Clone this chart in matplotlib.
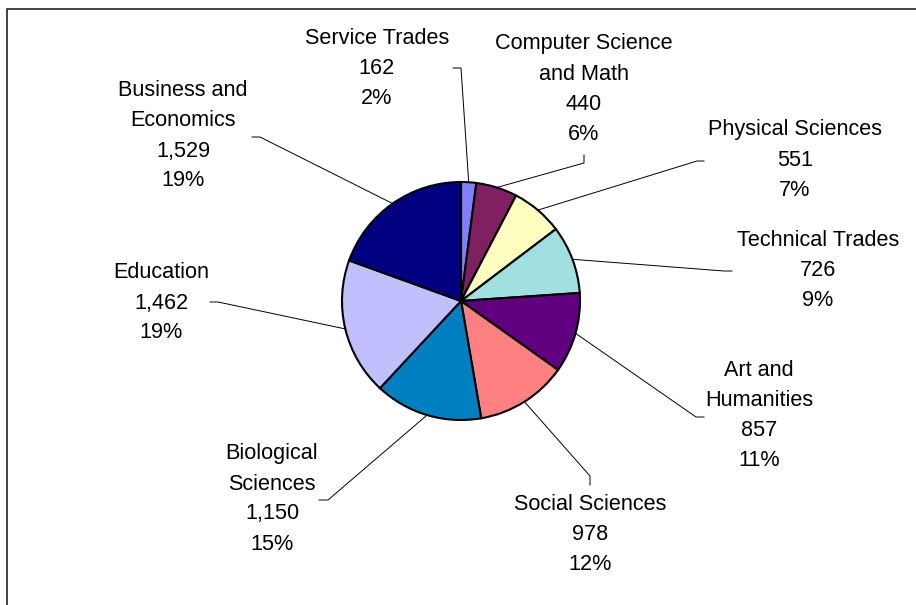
import numpy as np
import matplotlib.pyplot as plt

plt.rcParams['font.family'] = ['Liberation Sans', 'DejaVu Sans']

# degrees awarded by field
categories = ['Service Trades', 'Computer Science\nand Math', 'Physical Sciences',
              'Technical Trades', 'Art and\nHumanities', 'Social Sciences',
              'Biological\nSciences', 'Education', 'Business and\nEconomics']
counts = [162, 440, 551, 726, 857, 978, 1150, 1462, 1529]
colors = ['#8080FF', '#802060', '#FFFFC0', '#A0E0E0', '#600080',
          '#FF8080', '#0080C0', '#C0C0FF', '#000080']

W, H = 916, 605
# label block centres, leader elbows and leader tick ends (pixels, y down)
label_xy = [(377, 68), (584, 89), (795, 160), (818, 270), (759, 416),
            (590, 534), (272, 499), (161, 303), (183, 136)]
elbows = [(461, 68), (584, 163), (697, 161), (724, 271), (696, 417),
          (590, 476), (328, 500), (218, 302), (260, 137)]
tick_ends = [(453, 68), (584, 155), (704, 161), (732, 271), (704, 417),
             (590, 485), (319, 500), (210, 302), (252, 137)]

cx, cy, r = 461, H - 301, 119
total = sum(counts)

fig = plt.figure(figsize=(W / 100, H / 100), dpi=100)
ax = fig.add_axes([0, 0, 1, 1])

wedges, _ = ax.pie(counts, colors=colors, startangle=90, counterclock=False,
                   center=(cx, cy), radius=r,
                   wedgeprops=dict(edgecolor='black', linewidth=1.5))

for w, name, n, (lx, ly), (ex, ey), (tx, ty) in zip(
        wedges, categories, counts, label_xy, elbows, tick_ends):
    mid = np.deg2rad((w.theta1 + w.theta2) / 2)
    px, py = cx + r * np.cos(mid), cy + r * np.sin(mid)
    ax.plot([px, ex, tx], [py, H - ey, H - ty], color='black', lw=0.7,
            solid_joinstyle='miter')

    lines = name.split('\n') + [f'{n:,}', f'{round(100 * n / total)}%']
    k = len(lines)
    for i, s in enumerate(lines):
        y = ly + (i - (k - 1) / 2) * 30
        ax.text(lx, H - y, s, ha='center', va='center', fontsize=15.6,
                color='black')

# chart area border (only top and left edges fall inside the image)
ax.plot([7, 7, W], [0, H - 9, H - 9], color='#333333', lw=1.3,
        clip_on=False)

ax.set_xlim(0, W)
ax.set_ylim(0, H)
ax.set_aspect('equal')
ax.axis('off')

fig.savefig('out.png', dpi=100, facecolor='white')
